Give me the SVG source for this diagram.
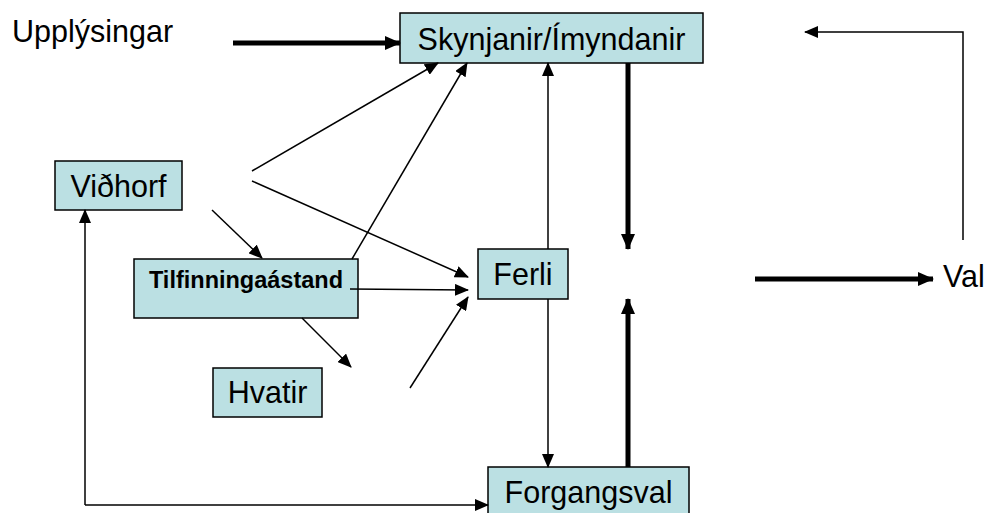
<svg xmlns="http://www.w3.org/2000/svg" width="990" height="513" viewBox="0 0 990 513">
<style>
.box{fill:#BBE0E3;stroke:#000;stroke-width:1.5}
.t{font-family:"Liberation Sans",Arial,sans-serif;font-size:30.5px;fill:#000}
.tb{font-family:"Liberation Sans",Arial,sans-serif;font-size:23.5px;font-weight:bold;fill:#000}
.thin{stroke:#000;stroke-width:1.5;fill:none;marker-end:url(#a)}
.plain{stroke:#000;stroke-width:1.5;fill:none}
.thick{stroke:#000;stroke-width:5;fill:none;marker-end:url(#b)}
</style>
<defs>
<marker id="a" markerUnits="userSpaceOnUse" markerWidth="14" markerHeight="12" refX="13" refY="6" orient="auto"><path d="M0,0 L14,6 L0,12 z" fill="#000"/></marker>
<marker id="b" markerUnits="userSpaceOnUse" markerWidth="16" markerHeight="14" refX="15" refY="7" orient="auto"><path d="M0,0 L16,7 L0,14 z" fill="#000"/></marker>
</defs>
<rect width="990" height="513" fill="#fff"/>
<g id="upplysingar"><text class="t" x="12" y="42">Upplýsingar</text></g>
<g id="skynjanir"><rect class="box" x="400" y="13" width="303" height="50"/><text class="t" x="551.5" y="50" text-anchor="middle">Skynjanir/Ímyndanir</text></g>
<g id="vidhorf"><rect class="box" x="55" y="161" width="127" height="49"/><text class="t" x="118.5" y="197" text-anchor="middle">Viðhorf</text></g>
<g id="tilfinningaastand"><rect class="box" x="134" y="259" width="224" height="59"/><text class="tb" x="246" y="288" text-anchor="middle">Tilfinningaástand</text></g>
<g id="hvatir"><rect class="box" x="213" y="368" width="109" height="49"/><text class="t" x="267.5" y="403" text-anchor="middle">Hvatir</text></g>
<g id="ferli"><rect class="box" x="478" y="249" width="90" height="50"/><text class="t" x="523" y="285" text-anchor="middle">Ferli</text></g>
<g id="forgangsval"><rect class="box" x="488" y="467" width="201" height="60"/><text class="t" x="588.5" y="503" text-anchor="middle">Forgangsval</text></g>
<g id="val"><text class="t" x="943" y="287">Val</text></g>
<g id="connectors">
<line class="thick" x1="233" y1="43" x2="400" y2="43"/>
<line class="thin" x1="252" y1="171" x2="438" y2="63"/>
<line class="thin" x1="252" y1="181" x2="468" y2="277"/>
<line class="thin" x1="352" y1="259" x2="467" y2="63"/>
<line class="thin" x1="212" y1="210" x2="262" y2="258"/>
<line class="thin" x1="350" y1="289" x2="468" y2="290"/>
<line class="thin" x1="302" y1="318" x2="351" y2="367"/>
<line class="thin" x1="410" y1="388" x2="468" y2="297"/>
<line class="thin" x1="548" y1="249" x2="548" y2="63"/>
<line class="thin" x1="548" y1="299" x2="548" y2="467"/>
<line class="thick" x1="628" y1="63" x2="628" y2="249"/>
<line class="thick" x1="628" y1="467" x2="628" y2="299"/>
<line class="thick" x1="755" y1="279" x2="933" y2="279"/>
<polyline class="thin" points="963,240 963,32 805,32"/>
<polyline class="thin" points="85,505 85,210"/>
<polyline class="thin" points="85,505 488,505"/>
</g>
</svg>
